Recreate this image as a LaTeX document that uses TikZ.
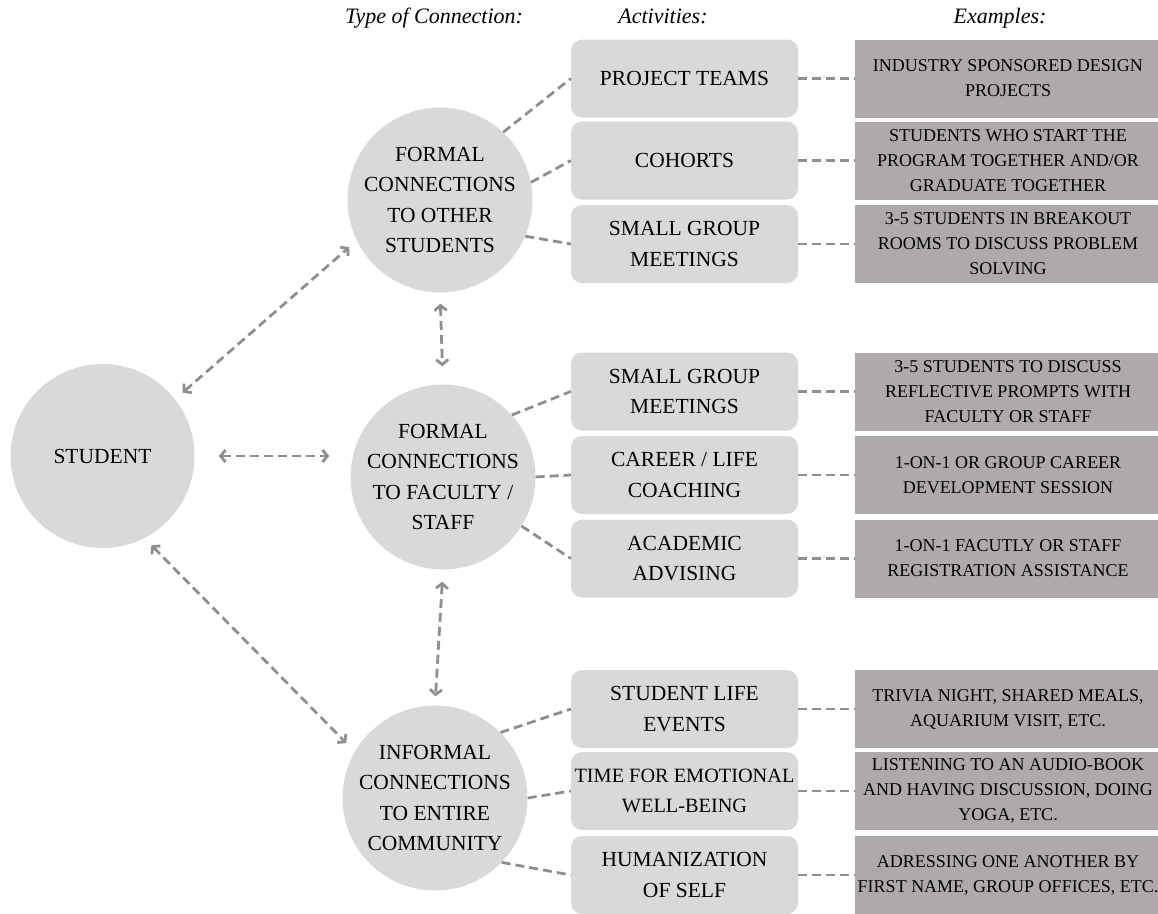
\documentclass[tikz,border=0pt]{standalone}
\usepackage{fontspec}
\setmainfont{Liberation Serif}
\usetikzlibrary{arrows.meta,calc}
\definecolor{softgray}{HTML}{D9D9D9}
\definecolor{darkfill}{HTML}{AEAAAA}
\definecolor{linkgray}{HTML}{8F8F8F}
\begin{document}
\begin{tikzpicture}[x=1pt,y=-1pt,
  hub/.style={circle, fill=softgray, minimum size=184pt, inner sep=0pt, align=center,
    font=\fontsize{21.5}{30.5}\selectfont},
  activity/.style={rectangle, rounded corners=11pt, fill=softgray, minimum width=227pt,
    minimum height=78pt, inner sep=0pt, align=center, font=\fontsize{21.5}{30.5}\selectfont},
  example/.style={rectangle, fill=darkfill, minimum width=306pt, minimum height=78pt,
    inner sep=0pt, align=center, font=\fontsize{18}{25}\selectfont},
  heading/.style={anchor=base, font=\fontsize{22}{26}\selectfont\itshape},
  link/.style={draw=linkgray, line width=2.8pt, dash pattern=on 9pt off 5pt},
  twoway/.style={link, {Straight Barb[length=5pt,width=12pt]}-{Straight Barb[length=5pt,width=12pt]}},
]
\useasboundingbox (0,0) rectangle (1158,913);
\clip (0,0) rectangle (1158,913);

% column headings
\node[heading] (h1) at (434,23) {Type of Connection:};
\node[heading] (h2) at (663,23) {Activities:};
\node[heading] (h3) at (1000,23) {Examples:};

% student and the three kinds of connection
\node[hub] (s)  at (102.5,456) {STUDENT};
\node[hub] (c1) at (440,200) {FORMAL\\CONNECTIONS\\TO OTHER\\STUDENTS};
\node[hub] (c2) at (443,477) {FORMAL\\CONNECTIONS\\TO FACULTY /\\STAFF};
\node[hub] (c3) at (435,798) {INFORMAL\\CONNECTIONS\\TO ENTIRE\\COMMUNITY};

% activities
\node[activity] (a1) at (684.5,78.5) {PROJECT TEAMS};
\node[activity] (a2) at (684.5,160.5) {COHORTS};
\node[activity] (a3) at (684.5,244) {SMALL GROUP\\MEETINGS};
\node[activity] (a4) at (684.5,391.5) {SMALL GROUP\\MEETINGS};
\node[activity] (a5) at (684.5,475) {CAREER / LIFE\\COACHING};
\node[activity] (a6) at (684.5,558.5) {ACADEMIC\\ADVISING};
\node[activity] (a7) at (684.5,709) {STUDENT LIFE\\EVENTS};
\node[activity, font=\fontsize{20.3}{30.5}\selectfont] (a8) at (684.5,791) {TIME FOR EMOTIONAL\\WELL-BEING};
\node[activity] (a9) at (684.5,875) {HUMANIZATION\\OF SELF};

% examples
\node[example] (e1) at (1008,78.5) {INDUSTRY SPONSORED DESIGN\\PROJECTS};
\node[example] (e2) at (1008,160.5) {STUDENTS WHO START THE\\PROGRAM TOGETHER AND/OR\\GRADUATE TOGETHER};
\node[example] (e3) at (1008,244) {3-5 STUDENTS IN BREAKOUT\\ROOMS TO DISCUSS PROBLEM\\SOLVING};
\node[example] (e4) at (1008,391.5) {3-5 STUDENTS TO DISCUSS\\REFLECTIVE PROMPTS WITH\\FACULTY OR STAFF};
\node[example] (e5) at (1008,475) {1-ON-1 OR GROUP CAREER\\DEVELOPMENT SESSION};
\node[example] (e6) at (1008,558.5) {1-ON-1 FACUTLY OR STAFF\\REGISTRATION ASSISTANCE};
\node[example] (e7) at (1008,709) {TRIVIA NIGHT, SHARED MEALS,\\AQUARIUM VISIT, ETC.};
\node[example] (e8) at (1008,791) {LISTENING TO AN AUDIO-BOOK\\AND HAVING DISCUSSION, DOING\\YOGA, ETC.};
\node[example] (e9) at (1008,875) {ADRESSING ONE ANOTHER BY\\FIRST NAME, GROUP OFFICES, ETC.};

% two-way links between the circles
\draw[twoway, shorten <=10pt, shorten >=10pt] (s.38) -- (c1.206);
\draw[twoway, shorten <=24pt, shorten >=21pt] (s.east) -- (c2.west |- s.east);
\draw[twoway, shorten <=10pt, shorten >=12pt] (s.-63) -- (c3.150);
\draw[twoway, shorten <=11pt, shorten >=18pt] (c1.south) -- (c2.north);
\draw[twoway, shorten <=12pt, shorten >=9pt] (c2.south) -- (c3.north);

% circles to activities
\draw[link] (c1.47) -- (a1.west);
\draw[link] (c1.11) -- (a2.west);
\draw[link] (c1.-23) -- (a3.west);
\draw[link] (c2.42) -- (a4.west);
\draw[link] (c2.0) -- (a5.west);
\draw[link] (c2.-32) -- (a6.west);
\draw[link] (c3.45) -- (a7.west);
\draw[link] (c3.0) -- (a8.west);
\draw[link] (c3.-44) -- (a9.west);

% activities to examples
\foreach \i in {1,...,9}
  \draw[link] (a\i.east) -- (e\i.west);
\end{tikzpicture}
\end{document}
